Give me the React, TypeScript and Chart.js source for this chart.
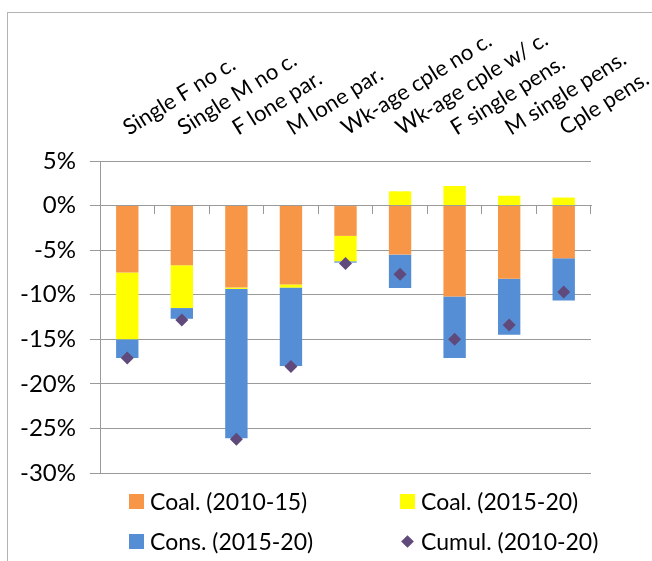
import React, { useEffect, useRef } from "react";
import { Chart, registerables } from "chart.js";

Chart.register(...registerables);

const categories = [
  "Single F no c.",
  "Single M no c.",
  "F lone par.",
  "M lone par.",
  "Wk-age cple no c.",
  "Wk-age cple w/ c.",
  "F single pens.",
  "M single pens.",
  "Cple pens.",
];
const coal1015 = [-7.5, -6.7, -9.2, -8.85, -3.4, -5.5, -10.2, -8.2, -5.9];
const coal1520 = [-7.5, -4.8, -0.15, -0.35, -2.85, 1.6, 2.2, 1.1, 0.9];
const cons1520 = [-2.1, -1.2, -16.75, -8.8, -0.15, -3.75, -6.9, -6.3, -4.75];
const cumul = [-17.1, -12.85, -26.2, -18.05, -6.5, -7.7, -15.0, -13.4, -9.7];
const yTickValues = [5, 0, -5, -10, -15, -20, -25, -30];
const seriesNames = ["Coal. (2010-15)", "Coal. (2015-20)", "Cons. (2015-20)", "Cumul. (2010-20)"];

const ORANGE = "#F79646";
const YELLOW = "#FFFF00";
const BLUE = "#558ED5";
const PURPLE = "#604A7B";
const GRID = "#9a9a9a";
const FONT = "Lato";

export default function App() {
  const ref = useRef<HTMLCanvasElement | null>(null);

  useEffect(() => {
    if (!ref.current) return;
    const chart = new Chart(ref.current, {
      type: "bar",
      data: {
        labels: categories,
        datasets: [
          { label: seriesNames[0], data: coal1015, backgroundColor: ORANGE, stack: "s", order: 1 },
          { label: seriesNames[1], data: coal1520, backgroundColor: YELLOW, stack: "s", order: 1 },
          { label: seriesNames[2], data: cons1520, backgroundColor: BLUE, stack: "s", order: 1 },
          {
            type: "line",
            label: seriesNames[3],
            data: cumul,
            stack: "c",
            showLine: false,
            pointStyle: "rectRot",
            pointRadius: 6.5,
            pointBackgroundColor: PURPLE,
            pointBorderColor: PURPLE,
            pointBorderWidth: 0,
            backgroundColor: PURPLE,
            borderColor: PURPLE,
            order: 0,
          } as any,
        ],
      },
      options: {
        animation: false,
        responsive: false,
        maintainAspectRatio: false,
        datasets: { bar: { barPercentage: 0.41, categoryPercentage: 1 } },
        layout: { padding: { left: 0, right: 61, top: 0, bottom: 88 } },
        plugins: { legend: { display: false }, tooltip: { enabled: false } },
        scales: {
          x: {
            position: "top",
            stacked: true,
            offset: true,
            grid: { display: false },
            border: { display: false },
            ticks: {
              autoSkip: false,
              minRotation: 32,
              maxRotation: 32,
              color: "#000",
              font: { family: FONT, size: 22 },
              padding: 12,
              labelOffset: 12,
            },
            afterFit: (s: any) => {
              s.height = 161;
              s.paddingLeft = 0;
              s.paddingRight = 0;
            },
          },
          x2: {
            axis: "x",
            type: "category",
            labels: categories,
            position: { y: 0 },
            offset: true,
            grid: { offset: true, drawOnChartArea: false, drawTicks: true, tickLength: 8, color: GRID },
            border: { display: true, color: GRID },
            ticks: { display: false },
          },
          y: {
            stacked: true,
            min: -30,
            max: 5,
            afterBuildTicks: (s: any) => {
              s.ticks = yTickValues.map((v) => ({ value: v }));
            },
            ticks: {
              callback: (v: any) => `${v}%`,
              color: "#000",
              font: { family: FONT, size: 24 },
              padding: 14,
            },
            grid: { color: GRID, tickLength: 10, drawTicks: true },
            border: { display: true, color: GRID },
            afterFit: (s: any) => {
              s.width = 100;
            },
          },
        } as any,
      },
    });
    return () => chart.destroy();
  }, []);

  const legendItems = [
    { name: seriesNames[0], color: ORANGE, x: 129, y: 501, diamond: false },
    { name: seriesNames[1], color: YELLOW, x: 400, y: 501, diamond: false },
    { name: seriesNames[2], color: BLUE, x: 129, y: 541, diamond: false },
    { name: seriesNames[3], color: PURPLE, x: 400, y: 541, diamond: true },
  ];

  return (
    <div style={{ position: "fixed", left: 0, top: 0, width: 652, height: 561, overflow: "hidden", background: "#fff" }}>
      <div
        style={{
          position: "absolute",
          left: 7,
          top: 12,
          width: 700,
          height: 600,
          border: "1px solid #b4b4b4",
          boxSizing: "border-box",
        }}
      />
      <canvas ref={ref} width={652} height={561} style={{ position: "absolute", left: 0, top: 0, display: "block" }} />
      {legendItems.map((it) => (
        <div
          key={it.name}
          style={{
            position: "absolute",
            left: it.x,
            top: it.y - 14,
            height: 28,
            display: "flex",
            alignItems: "center",
            fontFamily: FONT,
            fontSize: 23,
            color: "#000",
            whiteSpace: "nowrap",
          }}
        >
          {it.diamond ? (
            <span style={{ width: 15, height: 15, display: "inline-flex", alignItems: "center", justifyContent: "center" }}>
              <span style={{ width: 9, height: 9, background: it.color, transform: "rotate(45deg)", display: "block" }} />
            </span>
          ) : (
            <span style={{ width: 15, height: 15, background: it.color, display: "block" }} />
          )}
          <span style={{ marginLeft: 6 }}>{it.name}</span>
        </div>
      ))}
    </div>
  );
}
